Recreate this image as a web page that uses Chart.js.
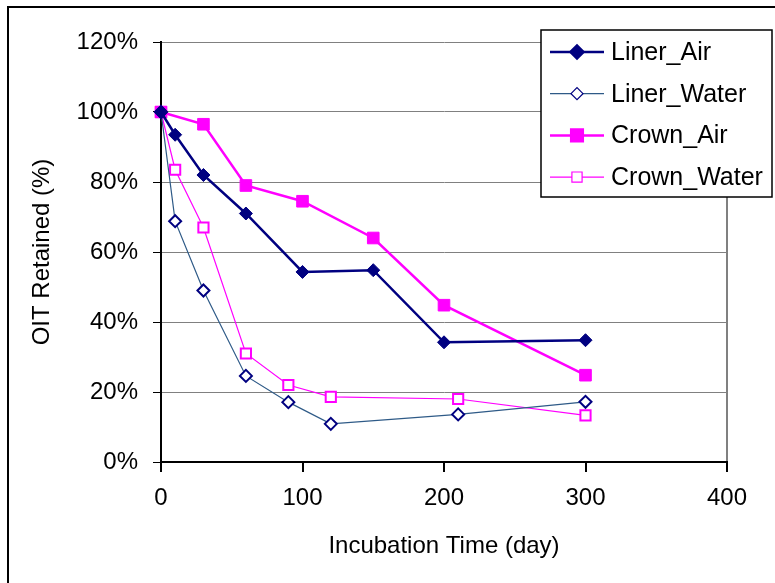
<!DOCTYPE html>
<html>
<head>
<meta charset="utf-8">
<script src="https://cdn.jsdelivr.net/npm/chart.js@4/dist/chart.umd.min.js"></script>
<style>
  html, body { margin: 0; padding: 0; background: #fff; }
  #wrap { width: 775px; height: 583px; }
</style>
</head>
<body>
<div id="wrap"><canvas id="chart" width="775" height="583"></canvas></div>
<script>
// series: x = incubation time (day), y = OIT retained (%)
const linerAirDays = [0, 10, 30, 60, 100, 150, 200, 300];
const linerAirVals = [100, 93.5, 82, 71, 54.3, 54.8, 34.2, 34.8];

const linerWaterDays = [0, 10, 30, 60, 90, 120, 210, 300];
const linerWaterVals = [100, 68.8, 49, 24.6, 17.1, 10.9, 13.6, 17.2];

const crownAirDays = [0, 30, 60, 100, 150, 200, 300];
const crownAirVals = [100, 96.5, 79, 74.5, 64, 44.8, 24.8];

const crownWaterDays = [0, 10, 30, 60, 90, 120, 210, 300];
const crownWaterVals = [100, 83.5, 67, 31, 22, 18.6, 18, 13.3];

const xTicks = [0, 100, 200, 300, 400];
const yTicks = [0, 20, 40, 60, 80, 100, 120];

const FONT = "'Liberation Sans', Arial, sans-serif";

function pts(days, vals) {
    return days.map((d, i) => ({ x: d, y: vals[i] }));
}

// legend drawn as a box overlapping the plot, like the original
const boxLegend = {
    id: 'boxLegend',
    afterDraw(chart) {
        const ctx = chart.ctx;
        ctx.save();
        ctx.fillStyle = '#fff';
        ctx.fillRect(541, 30, 231, 167);
        ctx.strokeStyle = '#000';
        ctx.lineWidth = 1.5;
        ctx.strokeRect(541, 30, 231, 167);
        chart.data.datasets.forEach((ds, i) => {
            const y = 52 + i * 41.7;
            ctx.strokeStyle = ds.borderColor;
            ctx.lineWidth = ds.borderWidth;
            ctx.beginPath();
            ctx.moveTo(550, y);
            ctx.lineTo(604, y);
            ctx.stroke();
            ctx.fillStyle = ds.pointBackgroundColor;
            ctx.strokeStyle = ds.pointBorderColor;
            Chart.helpers.drawPoint(ctx, {
                pointStyle: ds.pointStyle,
                radius: ds.pointRadius,
                rotation: 0,
                borderWidth: ds.pointBorderWidth
            }, 577, y);
            ctx.fillStyle = '#000';
            ctx.font = '25px ' + FONT;
            ctx.textBaseline = 'middle';
            ctx.textAlign = 'left';
            ctx.fillText(ds.label, 611, y + 1);
        });
        ctx.restore();
    }
};

// outer chart frame
const frame = {
    id: 'frame',
    afterDraw(chart) {
        const ctx = chart.ctx;
        ctx.save();
        ctx.strokeStyle = '#000';
        ctx.lineWidth = 2;
        ctx.strokeRect(8, 7, 800, 620);
        ctx.restore();
    }
};

new Chart(document.getElementById('chart'), {
    type: 'scatter',
    data: {
        datasets: [{
            label: 'Liner_Air',
            data: pts(linerAirDays, linerAirVals),
            showLine: true,
            borderColor: '#000080',
            borderWidth: 2.5,
            pointStyle: 'rectRot',
            pointRadius: 6.5,
            pointBackgroundColor: '#000080',
            pointBorderColor: '#000080',
            pointBorderWidth: 1
        }, {
            label: 'Liner_Water',
            data: pts(linerWaterDays, linerWaterVals),
            showLine: true,
            borderColor: '#2E5A87',
            borderWidth: 1.2,
            pointStyle: 'rectRot',
            pointRadius: 6,
            pointBackgroundColor: '#fff',
            pointBorderColor: '#000080',
            pointBorderWidth: 2
        }, {
            label: 'Crown_Air',
            data: pts(crownAirDays, crownAirVals),
            showLine: true,
            borderColor: '#FF00FF',
            borderWidth: 2.5,
            pointStyle: 'rect',
            pointRadius: 8.2,
            pointBackgroundColor: '#FF00FF',
            pointBorderColor: '#FF00FF',
            pointBorderWidth: 1
        }, {
            label: 'Crown_Water',
            data: pts(crownWaterDays, crownWaterVals),
            showLine: true,
            borderColor: '#FF00FF',
            borderWidth: 1.2,
            pointStyle: 'rect',
            pointRadius: 7.2,
            pointBackgroundColor: '#fff',
            pointBorderColor: '#FF00FF',
            pointBorderWidth: 2
        }]
    },
    options: {
        responsive: false,
        animation: false,
        devicePixelRatio: 1,
        layout: { padding: { left: 0, top: 42, right: 48, bottom: 0 } },
        elements: { line: { tension: 0 } },
        datasets: { scatter: { clip: false } },
        plugins: {
            legend: { display: false },
            tooltip: { enabled: false }
        },
        scales: {
            x: {
                type: 'linear',
                min: xTicks[0],
                max: xTicks[xTicks.length - 1],
                afterBuildTicks: s => { s.ticks = xTicks.map(v => ({ value: v })); },
                afterFit: s => { s.height = 121; },
                grid: {
                    drawOnChartArea: true,
                    color: c => (c.tick && c.tick.value === 400) ? '#808080' : 'rgba(0,0,0,0)',
                    lineWidth: 2,
                    tickColor: '#000',
                    tickLength: 10
                },
                border: { color: '#000', width: 2 },
                ticks: { color: '#000', padding: 12, font: { family: FONT, size: 24 } },
                title: {
                    display: true,
                    text: 'Incubation Time (day)',
                    color: '#000',
                    font: { family: FONT, size: 24 },
                    padding: { top: 0, bottom: 22 }
                }
            },
            y: {
                type: 'linear',
                min: yTicks[0],
                max: yTicks[yTicks.length - 1],
                afterBuildTicks: s => { s.ticks = yTicks.map(v => ({ value: v })); },
                afterFit: s => { s.width = 161; },
                grid: {
                    color: '#808080',
                    lineWidth: 1,
                    tickColor: '#000',
                    tickLength: 8
                },
                border: { color: '#000', width: 2 },
                ticks: {
                    color: '#000',
                    padding: 15,
                    font: { family: FONT, size: 24 },
                    callback: v => v + '%'
                },
                title: {
                    display: true,
                    text: 'OIT Retained (%)',
                    color: '#000',
                    font: { family: FONT, size: 24 },
                    padding: { top: 28, bottom: 0 }
                }
            }
        }
    },
    plugins: [boxLegend, frame]
});
</script>
</body>
</html>
